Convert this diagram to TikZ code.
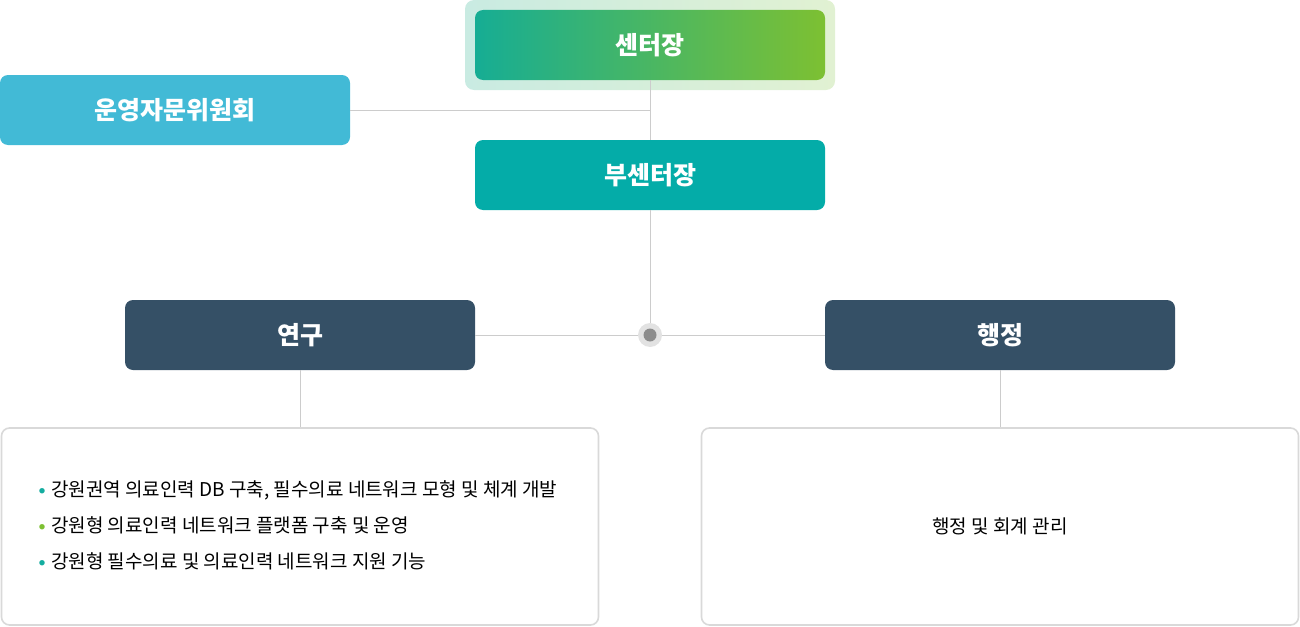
\documentclass[tikz,border=0pt]{standalone}
\usepackage{fontspec}
\setmainfont{Noto Sans CJK KR}
\usepackage{xcolor}
\usetikzlibrary{calc,positioning}
\definecolor{headl}{HTML}{16AD94}
\definecolor{headr}{HTML}{7DC032}
\definecolor{glowl}{HTML}{C9EBE2}
\definecolor{glowr}{HTML}{E1F1D2}
\definecolor{advice}{HTML}{42BAD6}
\definecolor{deputy}{HTML}{04ACA8}
\definecolor{dept}{HTML}{355066}
\definecolor{wire}{HTML}{CCCCCC}
\definecolor{frame}{HTML}{D9D9D9}
\definecolor{hubdot}{HTML}{8C8C8C}
\definecolor{hubring}{HTML}{E2E2E2}
\definecolor{dotteal}{HTML}{14ADA0}
\definecolor{dotgreen}{HTML}{7DC032}
\tikzset{
	titlebox/.style={rounded corners=8pt, minimum width=350pt, minimum height=70pt,
		inner sep=0pt, text=white, font=\fontsize{25}{30}\selectfont\bfseries},
	listbox/.style={draw=frame, line width=1.6pt, fill=white, rounded corners=8pt,
		minimum width=597pt, minimum height=197pt, inner sep=0pt},
	wire/.style={draw=wire, line width=1pt},
	itemtext/.style={anchor=west, inner sep=0pt, font=\fontsize{19}{23}\selectfont}
}
\newcommand{\bul}[1]{\textcolor{#1}{\fontsize{6}{6}\selectfont\raisebox{3pt}{●}}\hspace{6pt}}
\begin{document}
\begin{tikzpicture}[x=1pt,y=-1pt]
				\useasboundingbox (0,0) rectangle (1300,626);
				\node[titlebox, minimum width=370pt, minimum height=90pt, rounded corners=9pt,
					left color=glowl, right color=glowr] (glow) at (650,45) {};
				\node[titlebox, left color=headl, right color=headr] (head) at (650,45) {센터장};
				\node[titlebox, fill=advice] (advice) at (175,110) {운영자문위원회};
				\node[titlebox, fill=deputy] (deputy) at (650,175) {부센터장};
				\node[titlebox, fill=dept] (research) at (300,335) {연구};
				\node[titlebox, fill=dept] (admin) at (1000,335) {행정};
				\node[circle, fill=hubring, minimum size=24pt, inner sep=0pt] (ring) at (650,335) {};
				\node[circle, fill=hubdot, minimum size=13pt, inner sep=0pt] (hub) at (650,335) {};
				\node[listbox] (reslist) at (300,526.5) {};
				\node[listbox] (admlist) at (1000,526.5) {};
				\coordinate (joint) at (650,110);
				\draw[wire] (head.south) to (deputy.north);
				\draw[wire] (advice.east) to (joint);
				\draw[wire] (deputy.south) to (ring.north);
				\draw[wire] (research.east) to (ring.west);
				\draw[wire] (ring.east) to (admin.west);
				\draw[wire] (research.south) to (reslist.north);
				\draw[wire] (admin.south) to (admlist.north);
				\node[itemtext] (item1) at (39,490) {\bul{dotteal}강원권역 의료인력 DB 구축, 필수의료 네트워크 모형 및 체계 개발};
				\node[itemtext] (item2) at (39,525) {\bul{dotgreen}강원형 의료인력 네트워크 플랫폼 구축 및 운영};
				\node[itemtext] (item3) at (39,561) {\bul{dotteal}강원형 필수의료 및 의료인력 네트워크 지원 기능};
				\node[inner sep=0pt, font=\fontsize{19}{23}\selectfont] (admitem) at (1000,526) {행정 및 회계 관리};
\end{tikzpicture}
\end{document}
